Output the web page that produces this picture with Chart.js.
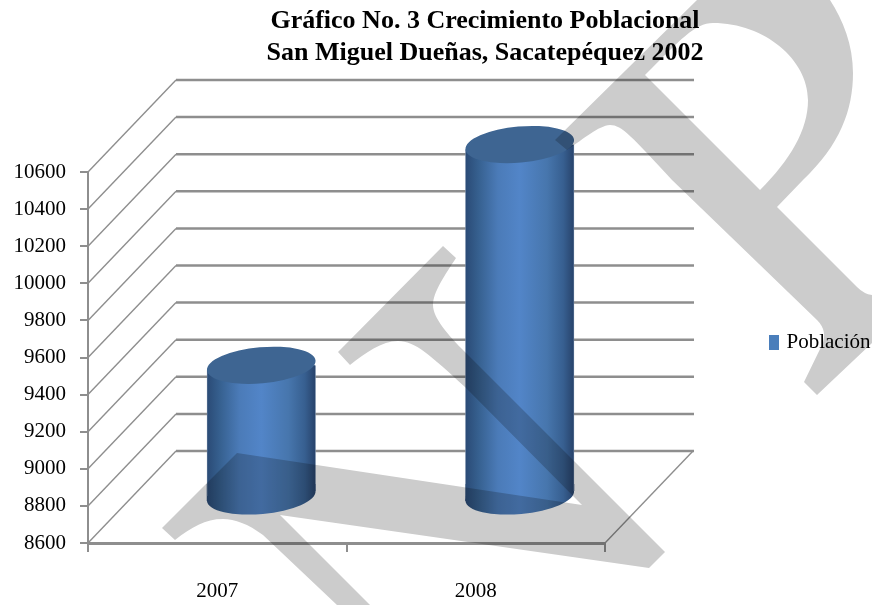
<!DOCTYPE html>
<html>
<head>
<meta charset="utf-8">
<title>Crecimiento Poblacional</title>
<script src="https://cdn.jsdelivr.net/npm/chart.js@4"></script>
<style>
  html, body { margin: 0; padding: 0; background: #fff; }
  canvas { display: block; }
</style>
</head>
<body>
<canvas id="myChart" width="872" height="605"></canvas>
<script>
const titleLines = ['Gráfico No. 3 Crecimiento Poblacional', 'San Miguel Dueñas, Sacatepéquez 2002']
const categories = ['2007', '2008']
const seriesName = 'Población'
const seriesValues = [9310, 10500]
const yTicks = [8600, 8800, 9000, 9200, 9400, 9600, 9800, 10000, 10200, 10400, 10600]

const SERIF = '"Liberation Serif", serif'
const BLUE = '#4a7ebb'
const GRID = '#8e8e8e'
// the fake 3d box: how far the back wall sits from the front plane
const DEPTH_X = 88
const DEPTH_Y = 92
const BAR_WIDTH = 109
const CAP_RY = 18
const CAP_TILT = 0.09

// scanned watermark that lies over the whole picture
function watermark(ctx) {
    ctx.save()
    ctx.globalCompositeOperation = 'multiply'
    ctx.fillStyle = '#cccccc'

    ctx.beginPath()
    ctx.moveTo(697, 0)
    ctx.lineTo(555, 140)
    ctx.lineTo(567, 150)
    ctx.bezierCurveTo(585, 138, 598, 126, 610, 125)
    ctx.bezierCurveTo(622, 125, 632, 137, 672, 180)
    ctx.lineTo(817, 320)
    ctx.quadraticCurveTo(828, 331, 822, 345)
    ctx.lineTo(804, 382)
    ctx.lineTo(817, 395)
    ctx.lineTo(872, 343)
    ctx.lineTo(872, 295)
    ctx.quadraticCurveTo(864, 294, 857, 287)
    ctx.lineTo(777, 207)
    ctx.lineTo(803, 180)
    ctx.bezierCurveTo(840, 145, 853, 110, 853, 73)
    ctx.bezierCurveTo(853, 45, 843, 20, 830, 0)
    ctx.closePath()
    // bowl of the letter
    ctx.moveTo(645, 75)
    ctx.lineTo(760, 190)
    ctx.bezierCurveTo(790, 160, 808, 130, 808, 100)
    ctx.bezierCurveTo(808, 60, 765, 23, 713, 23)
    ctx.bezierCurveTo(695, 23, 680, 40, 645, 75)
    ctx.closePath()
    ctx.fill('evenodd')

    ctx.beginPath()
    ctx.moveTo(443, 246)
    ctx.lineTo(456, 258)
    ctx.bezierCurveTo(445, 275, 433, 292, 433, 305)
    ctx.bezierCurveTo(433, 318, 448, 335, 465, 352)
    ctx.lineTo(665, 552)
    ctx.lineTo(649, 568)
    ctx.lineTo(280, 515)
    ctx.lineTo(370, 605)
    ctx.lineTo(337, 605)
    ctx.lineTo(263, 535)
    ctx.bezierCurveTo(248, 524, 235, 519, 223, 519)
    ctx.bezierCurveTo(205, 519, 192, 527, 175, 540)
    ctx.lineTo(162, 528)
    ctx.lineTo(237, 453)
    ctx.lineTo(582, 505)
    ctx.lineTo(465, 387)
    ctx.bezierCurveTo(430, 355, 415, 341, 398, 341)
    ctx.bezierCurveTo(382, 341, 365, 353, 350, 365)
    ctx.lineTo(338, 352)
    ctx.closePath()
    ctx.fill()
    ctx.restore()
}

function barGradient(ctx, x) {
    const half = BAR_WIDTH / 2
    const g = ctx.createLinearGradient(x - half, 0, x + half, 0)
    g.addColorStop(0, '#2a4a75')
    g.addColorStop(0.12, '#36608f')
    g.addColorStop(0.3, '#4b7bb8')
    g.addColorStop(0.5, '#5285c8')
    g.addColorStop(0.75, '#4776ad')
    g.addColorStop(0.9, '#375f90')
    g.addColorStop(1, '#27426a')
    return g
}

function ellipse(ctx, x, y, fill) {
    ctx.beginPath()
    ctx.ellipse(x, y, BAR_WIDTH / 2, CAP_RY, -CAP_TILT, 0, Math.PI * 2)
    ctx.fillStyle = fill
    ctx.fill()
}

const box3d = {
    id: 'box3d',
    afterLayout(chart) {
        // title and legend do not sit where the layout puts them
        chart.titleBlock.left = 185
        chart.titleBlock.right = 785
        chart.legend.left = 769
        chart.legend.right = 872
        chart.legend.top = 329
        chart.legend.bottom = 363
    },
    beforeDatasetsDraw(chart) {
        const ctx = chart.ctx
        const { left, right } = chart.chartArea
        const y = chart.scales.y
        ctx.save()
        ctx.strokeStyle = GRID
        ctx.lineWidth = 1.4
        yTicks.forEach(v => {
            const py = y.getPixelForValue(v)
            ctx.beginPath()
            ctx.moveTo(left, py)
            ctx.lineTo(left + DEPTH_X, py - DEPTH_Y)
            ctx.stroke()
        })
        ctx.lineWidth = 2.5
        yTicks.forEach(v => {
            const py = y.getPixelForValue(v) - DEPTH_Y
            ctx.beginPath()
            ctx.moveTo(left + DEPTH_X, py)
            ctx.lineTo(right + DEPTH_X + 1, py)
            ctx.stroke()
        })
        // right edge of the floor
        const base = y.getPixelForValue(yTicks[0])
        ctx.lineWidth = 1.4
        ctx.beginPath()
        ctx.moveTo(right, base)
        ctx.lineTo(right + DEPTH_X, base - DEPTH_Y)
        ctx.stroke()
        ctx.restore()
    },
    beforeDatasetDraw(chart, args) {
        const ctx = chart.ctx
        const half = BAR_WIDTH / 2
        const slope = half * Math.tan(CAP_TILT)
        ctx.save()
        ctx.translate(DEPTH_X / 2, -DEPTH_Y / 2)
        args.meta.data.forEach(bar => {
            const fill = barGradient(ctx, bar.x)
            ellipse(ctx, bar.x, bar.base, fill)
            // wedge between the square bar end and the tilted ellipse
            ctx.beginPath()
            ctx.moveTo(bar.x - half, bar.base - 12)
            ctx.lineTo(bar.x + half, bar.base - 12)
            ctx.lineTo(bar.x + half, bar.base - slope)
            ctx.lineTo(bar.x - half, bar.base + slope)
            ctx.closePath()
            ctx.fillStyle = fill
            ctx.fill()
        })
        // cut the square bar ends so they follow the tilted ellipses
        ctx.beginPath()
        args.meta.data.forEach(bar => {
            ctx.moveTo(bar.x - half, bar.y + slope)
            ctx.lineTo(bar.x + half, bar.y - slope)
            ctx.lineTo(bar.x + half, bar.base - slope)
            ctx.lineTo(bar.x - half, bar.base + slope)
            ctx.closePath()
        })
        ctx.clip()
    },
    afterDatasetDraw(chart, args) {
        const ctx = chart.ctx
        ctx.restore()
        ctx.save()
        ctx.translate(DEPTH_X / 2, -DEPTH_Y / 2)
        args.meta.data.forEach(bar => {
            ellipse(ctx, bar.x, bar.y, '#3e6592')
        })
        ctx.restore()
    },
    afterDraw(chart) {
        watermark(chart.ctx)
    }
}

const chart = new Chart(document.getElementById('myChart').getContext('2d'), {
    type: 'bar',
    plugins: [box3d],
    data: {
        labels: categories,
        datasets: [{
            label: seriesName,
            data: seriesValues,
            base: yTicks[0],
            barThickness: BAR_WIDTH,
            clip: false,
            borderWidth: { left: 1, right: 1 },
            borderColor: '#6f86a3',
            backgroundColor: c => barGradient(c.chart.ctx, c.chart.scales.x.getPixelForValue(c.dataIndex))
        }]
    },
    options: {
        responsive: false,
        animation: false,
        layout: { padding: { right: 267 } },
        plugins: {
            tooltip: { enabled: false },
            title: {
                display: true,
                text: titleLines,
                color: '#000',
                font: { family: SERIF, size: 26, weight: 'bold', lineHeight: 1.25 },
                padding: { top: 5, bottom: 102 }
            },
            legend: {
                position: 'chartArea',
                align: 'start',
                labels: {
                    color: '#000',
                    font: { family: SERIF, size: 21 },
                    padding: 3,
                    // thin box with a thick stroke keeps the text close to the swatch
                    boxWidth: 4,
                    boxHeight: 9,
                    generateLabels: () => [{ text: seriesName, fillStyle: BLUE, strokeStyle: BLUE, lineWidth: 6, datasetIndex: 0 }]
                }
            }
        },
        scales: {
            x: {
                afterFit: s => { s.height = 62 },
                grid: { drawOnChartArea: false, offset: true, tickLength: 9, color: GRID, lineWidth: 2 },
                border: { color: GRID, width: 3 },
                ticks: { color: '#000', font: { family: SERIF, size: 21 }, padding: 27, maxRotation: 0 }
            },
            y: {
                min: yTicks[0],
                max: yTicks[yTicks.length - 1],
                afterFit: s => { s.width = 88 },
                afterBuildTicks: s => { s.ticks = yTicks.map(v => ({ value: v })) },
                grid: { drawOnChartArea: false, tickLength: 8, color: GRID, lineWidth: 2 },
                border: { color: GRID, width: 2 },
                ticks: { color: '#000', font: { family: SERIF, size: 21 }, padding: 14, callback: v => String(v) }
            }
        }
    }
})
</script>
</body>
</html>
